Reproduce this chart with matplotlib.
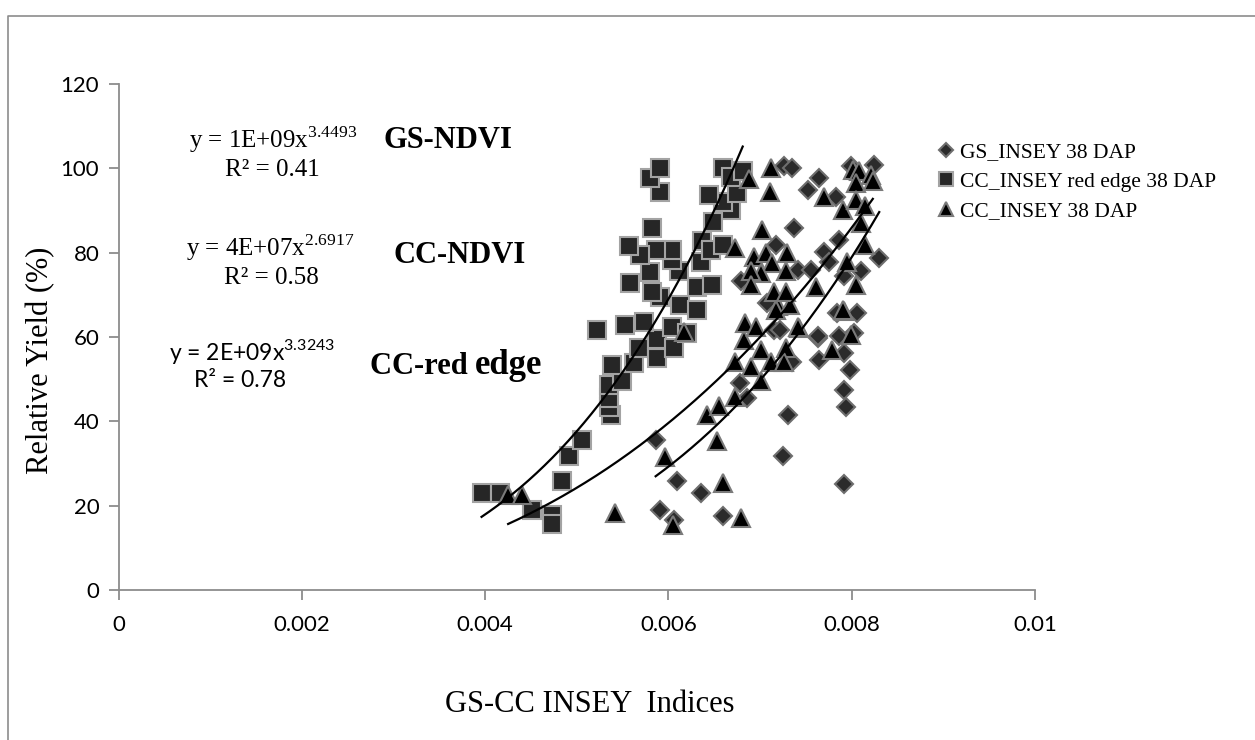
import matplotlib.pyplot as plt
import numpy as np

plt.rcParams['mathtext.fontset'] = 'custom'
plt.rcParams['mathtext.rm'] = 'Liberation Serif'

# GS_INSEY 38 DAP (diamonds)
gs_x = [0.00586, 0.00609, 0.00591, 0.00606, 0.00635, 0.00660, 0.00730, 0.00725,
        0.00792, 0.00794, 0.00792, 0.00798, 0.00763, 0.00764, 0.00678, 0.00686,
        0.00715, 0.00735, 0.00784, 0.00792, 0.00726, 0.00735, 0.00764, 0.00752,
        0.00783, 0.00737, 0.00717, 0.00679, 0.00741, 0.00755, 0.00770, 0.00775,
        0.00722, 0.00763, 0.00708, 0.00799, 0.00824, 0.00786, 0.00830, 0.00792,
        0.00810, 0.00806, 0.00803, 0.00786]
gs_y = [35.7, 25.8, 18.9, 16.7, 23.0, 17.5, 41.6, 31.7,
        25.2, 43.4, 47.5, 52.3, 59.8, 54.6, 49.1, 45.5,
        61.7, 54.2, 65.7, 56.2, 100.5, 100.1, 97.7, 94.9,
        93.3, 85.9, 81.9, 73.2, 76.0, 76.0, 80.3, 77.9,
        61.7, 60.2, 68.1, 100.5, 100.9, 83.1, 78.7, 74.4,
        75.6, 65.7, 61.0, 60.2]

# CC_INSEY red edge 38 DAP (squares)
re_x = [0.00396, 0.00416, 0.00451, 0.00473, 0.00473, 0.00484, 0.00491, 0.00506,
        0.00537, 0.00535, 0.00535, 0.00535, 0.00549, 0.00538, 0.00562, 0.00568,
        0.00588, 0.00588, 0.00606, 0.00522, 0.00553, 0.00573, 0.00604, 0.00620,
        0.00613, 0.00631, 0.00591, 0.00582, 0.00558, 0.00631, 0.00648, 0.00580,
        0.00611, 0.00635, 0.00604, 0.00604, 0.00586, 0.00569, 0.00557, 0.00637,
        0.00646, 0.00660, 0.00582, 0.00649, 0.00668, 0.00660, 0.00644, 0.00675,
        0.00591, 0.00580, 0.00591, 0.00659, 0.00668, 0.00681]
re_y = [23.0, 23.0, 18.9, 17.9, 15.7, 25.8, 31.7, 35.5,
        41.6, 43.4, 45.5, 48.7, 49.5, 53.4, 53.8, 57.4,
        55.0, 59.6, 57.4, 61.7, 62.9, 63.5, 62.5, 61.0,
        67.5, 66.5, 69.6, 70.8, 72.8, 72.0, 72.4, 75.4,
        75.6, 77.9, 78.3, 80.7, 80.7, 79.5, 81.5, 82.7,
        80.7, 81.9, 85.9, 87.4, 90.2, 92.0, 93.8, 94.2,
        94.5, 97.7, 100.1, 100.1, 98.1, 99.3]

# CC_INSEY 38 DAP (triangles)
cc_x = [0.00425, 0.00440, 0.00542, 0.00596, 0.00605, 0.00617, 0.00659, 0.00679,
        0.00653, 0.00642, 0.00655, 0.00673, 0.00673, 0.00682, 0.00684, 0.00695,
        0.00690, 0.00701, 0.00701, 0.00712, 0.00728, 0.00726, 0.00742, 0.00719,
        0.00733, 0.00779, 0.00792, 0.00799, 0.00688, 0.00712, 0.00711, 0.00702,
        0.00673, 0.00693, 0.00706, 0.00729, 0.00713, 0.00701, 0.00690, 0.00728,
        0.00690, 0.00715, 0.00728, 0.00717, 0.00741, 0.00761, 0.00770, 0.00801,
        0.00808, 0.00821, 0.00805, 0.00790, 0.00805, 0.00815, 0.00810, 0.00814,
        0.00795, 0.00805, 0.00790, 0.00823]
cc_y = [22.6, 22.6, 18.3, 31.5, 15.4, 61.3, 25.5, 17.1,
        35.3, 41.6, 43.6, 45.9, 54.2, 59.4, 63.3, 62.5,
        53.0, 49.5, 57.0, 54.2, 57.4, 54.2, 62.1, 67.3,
        67.7, 57.0, 66.1, 60.4, 97.5, 100.1, 94.5, 85.4,
        81.1, 79.1, 79.9, 79.9, 77.6, 75.2, 75.6, 75.6,
        72.4, 70.8, 70.8, 66.5, 62.5, 72.0, 93.3, 99.7,
        99.3, 98.5, 96.5, 90.2, 92.6, 91.0, 87.0, 81.9,
        77.9, 72.4, 66.5, 97.0]

# power trendlines y = a * x^b
gs_fit = (1.35e9, 3.4493)
cc_fit = (3.79e7, 2.6917)
re_fit = (1.68e9, 3.3243)

W, H = 1255, 740


def fp(x, y):
    return x / W, 1 - y / H


fig = plt.figure(figsize=(W / 100, H / 100), dpi=100)
ax = fig.add_axes([118.7 / W, 1 - 590 / H, (1035 - 118.7) / W, (590 - 84.2) / H])

ax.plot(gs_x, gs_y, 'D', ms=9.5, mfc='#2b2b2b', mec='#6e6e6e', mew=1.5,
        label='GS_INSEY 38 DAP', zorder=3)
ax.plot(re_x, re_y, 's', ms=13, mfc='#262626', mec='#a3a3a3', mew=1.5,
        label='CC_INSEY red edge 38 DAP', zorder=4)
ax.plot(cc_x, cc_y, '^', ms=13, mfc='black', mec='#7a7a7a', mew=1.5,
        label='CC_INSEY 38 DAP', zorder=5)

for xs, (a, b) in [(re_x, re_fit), (cc_x, cc_fit), (gs_x, gs_fit)]:
    xx = np.linspace(min(xs), max(xs), 200)
    ax.plot(xx, a * xx ** b, color='black', lw=1.6, zorder=6)

ax.set_xlim(0, 0.01)
ax.set_ylim(0, 120)
ax.set_xticks([0, 0.002, 0.004, 0.006, 0.008, 0.01])
ax.set_xticklabels(['0', '0.002', '0.004', '0.006', '0.008', '0.01'])
ax.set_yticks(range(0, 121, 20))
for s in ['top', 'right']:
    ax.spines[s].set_visible(False)
for s in ['left', 'bottom']:
    ax.spines[s].set_color('#8c8c8c')
    ax.spines[s].set_linewidth(1.3)
ax.tick_params(direction='out', length=7, width=1.3, color='#8c8c8c',
               labelsize=16, labelcolor='black')
ax.tick_params(axis='x', pad=11)
ax.tick_params(axis='y', pad=7)
for lab in ax.get_xticklabels() + ax.get_yticklabels():
    lab.set_family('Lato')

fig.text(*fp(590, 704), 'GS-CC INSEY  Indices', family='Liberation Serif',
         fontsize=22, ha='center', va='center')
fig.text(*fp(41, 360), 'Relative Yield (%)', family='Liberation Serif',
         fontsize=22, ha='center', va='center', rotation=90)

# equation labels
serif = dict(family='Liberation Serif', fontsize=18, ha='center', va='center')
fig.text(*fp(273, 140), r'y = 1E+09x$^{\mathregular{3.4493}}$', **serif)
fig.text(*fp(272, 170), 'R² = 0.41', **serif)
fig.text(*fp(270, 248), r'y = 4E+07x$^{\mathregular{2.6917}}$', **serif)
fig.text(*fp(271, 278), 'R² = 0.58', **serif)
plt.rcParams['mathtext.rm'] = 'Lato'
sans = dict(family='Lato', fontsize=16.5, ha='center', va='center')
fig.text(*fp(252, 352), r'y = 2E+09x$^{\mathregular{3.3243}}$', **sans)
fig.text(*fp(240, 381), 'R² = 0.78', **sans)

bold = dict(family='Liberation Serif', fontweight='bold', va='baseline')
fig.text(*fp(448, 148), 'GS-NDVI', ha='center', fontsize=22, **bold)
fig.text(*fp(460, 263), 'CC-NDVI', ha='center', fontsize=22, **bold)
t1 = fig.text(*fp(370, 374), 'CC-red ', ha='left', fontsize=22, **bold)
fig.canvas.draw()
x1 = t1.get_window_extent().x1
fig.text(x1 / W, 1 - 374 / H, 'edge', ha='left', fontsize=25, **bold)

leg = fig.legend(loc='upper left', bbox_to_anchor=fp(938, 142), frameon=False,
                 prop={'family': 'Liberation Serif', 'size': 15.5},
                 handlelength=0.7, handletextpad=0.3, labelspacing=0.45,
                 borderpad=0, borderaxespad=0, markerscale=0.75)

# chart area outline (top and left edges)
fig.add_artist(plt.Line2D([8 / W, 8 / W, 1], [0, 1 - 16 / H, 1 - 16 / H],
                          transform=fig.transFigure, color='#8c8c8c', lw=1.2))

fig.savefig('out.png', dpi=100)
